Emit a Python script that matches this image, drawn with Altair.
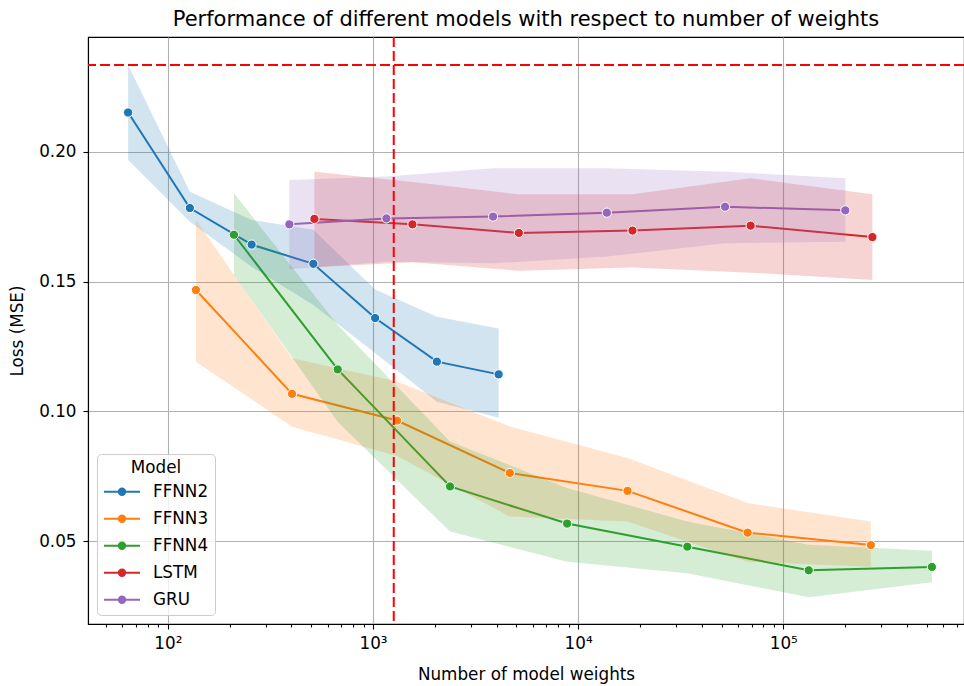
import altair as alt
import pandas as pd

models = ["FFNN2", "FFNN3", "FFNN4", "LSTM", "GRU"]
colors = ["#1f77b4", "#ff7f0e", "#2ca02c", "#d62728", "#9467bd"]

ffnn2_x = [64, 128, 256, 512, 1024, 2048, 4096]
ffnn2_y = [0.2152, 0.1784, 0.1643, 0.1569, 0.1360, 0.1192, 0.1143]
ffnn2_hi = [0.2335, 0.1847, 0.1738, 0.1700, 0.1470, 0.1365, 0.1320]
ffnn2_lo = [0.1969, 0.1731, 0.1558, 0.1410, 0.1225, 0.1037, 0.0976]

ffnn3_x = [137, 403, 1310, 4643, 17400, 66990, 267000]
ffnn3_y = [0.1468, 0.1068, 0.0965, 0.0763, 0.0694, 0.0533, 0.0485]
ffnn3_hi = [0.1738, 0.1205, 0.1115, 0.0942, 0.0821, 0.0647, 0.0576]
ffnn3_lo = [0.1192, 0.0941, 0.0828, 0.0595, 0.0576, 0.0421, 0.0402]

ffnn4_x = [210, 673, 2375, 8830, 34050, 133000, 530000]
ffnn4_y = [0.1681, 0.1162, 0.0711, 0.0568, 0.0479, 0.0388, 0.0401]
ffnn4_hi = [0.1841, 0.1333, 0.0884, 0.0705, 0.0576, 0.0486, 0.0463]
ffnn4_lo = [0.1526, 0.0959, 0.0537, 0.0421, 0.0377, 0.0284, 0.0342]

lstm_x = [518, 1556, 5140, 18400, 69300, 271800]
lstm_y = [0.1742, 0.1721, 0.1688, 0.1697, 0.1716, 0.1672]
lstm_hi = [0.1924, 0.1884, 0.1837, 0.1837, 0.1899, 0.1837]
lstm_lo = [0.1556, 0.1575, 0.1542, 0.1555, 0.1535, 0.1507]

gru_x = [391, 1162, 3847, 13800, 52000, 200500]
gru_y = [0.1721, 0.1744, 0.1751, 0.1766, 0.1789, 0.1775]
gru_hi = [0.1892, 0.1905, 0.1937, 0.1937, 0.1924, 0.1899]
gru_lo = [0.1548, 0.1577, 0.1571, 0.1597, 0.1648, 0.1654]

hline_y = [0.2335]
vline_x = [1262]

x_ticks = [50, 60, 70, 80, 90,
           100, 200, 300, 400, 500, 600, 700, 800, 900,
           1000, 2000, 3000, 4000, 5000, 6000, 7000, 8000, 9000,
           10000, 20000, 30000, 40000, 50000, 60000, 70000, 80000, 90000,
           100000, 200000, 300000, 400000, 500000, 600000, 700000]
y_ticks = [0.05, 0.10, 0.15, 0.20]

series = [
    ("FFNN2", ffnn2_x, ffnn2_y, ffnn2_lo, ffnn2_hi),
    ("FFNN3", ffnn3_x, ffnn3_y, ffnn3_lo, ffnn3_hi),
    ("FFNN4", ffnn4_x, ffnn4_y, ffnn4_lo, ffnn4_hi),
    ("LSTM", lstm_x, lstm_y, lstm_lo, lstm_hi),
    ("GRU", gru_x, gru_y, gru_lo, gru_hi),
]
rows = []
for name, xs, ys, los, his in series:
    for a, b, c, d in zip(xs, ys, los, his):
        rows.append({"Model": name, "w": a, "loss": b, "lo": c, "hi": d})
df = pd.DataFrame(rows)

FONT = "DejaVu Sans"
MAJOR = "abs(log(datum.value)/LN10 - round(log(datum.value)/LN10)) < 0.001"

xscale = alt.Scale(type="log", domain=[40.8, 760000], nice=False)
yscale = alt.Scale(domain=[0.0181, 0.2443], nice=False, zero=False)
cscale = alt.Scale(domain=models, range=colors)

x_axis = alt.Axis(
    title="Number of model weights", values=x_ticks,
    labelExpr=MAJOR + " ? '10' + ['⁰','¹','²','³','⁴','⁵','⁶'][round(log(datum.value)/LN10)] : ''",
    labelOverlap=False, labelFlush=False,
    tickSize={"condition": {"test": MAJOR, "value": 5}, "value": 3},
    gridOpacity={"condition": {"test": MAJOR, "value": 1}, "value": 0},
    labelPadding=6, titlePadding=15,
)
y_axis = alt.Axis(title="Loss (MSE)", values=y_ticks, format=".2f", tickSize=5,
                  labelPadding=7, titlePadding=12)

sym_path = ("M-2.25,0L2.25,0"
            "M0.4,0A0.4,0.4,0,1,1,-0.4,0A0.4,0.4,0,1,1,0.4,0"
            "M0.2,0A0.2,0.2,0,1,1,-0.2,0A0.2,0.2,0,1,1,0.2,0"
            "M0.05,0A0.05,0.05,0,1,1,-0.05,0A0.05,0.05,0,1,1,0.05,0")

legend = alt.Legend(
    title="Model", orient="none", legendX=9, legendY=417,
    symbolType=sym_path, symbolSize=256, symbolStrokeWidth=2,
    symbolOffset=10, labelOffset=22, rowPadding=9, padding=6,
    fillColor="rgba(255,255,255,0.8)", strokeColor="#cccccc", cornerRadius=4,
    titleAnchor="middle", titleAlign="center", titleFontWeight="normal", titleFontSize=16.8,
    labelFontSize=16.8, titlePadding=6, symbolOpacity=1,
)

base = alt.Chart(df)
x = alt.X("w:Q", scale=xscale, axis=x_axis)
color = alt.Color("Model:N", scale=cscale, legend=legend)

bands = base.mark_area(opacity=0.2, clip=True).encode(
    x=x, y=alt.Y("lo:Q", scale=yscale, axis=y_axis), y2="hi:Q",
    color=color,
)
lines = base.mark_line(strokeWidth=2, clip=True).encode(
    x=x, y=alt.Y("loss:Q", scale=yscale),
    color=color,
)
points = base.mark_point(filled=True, size=85, stroke="white", strokeWidth=1,
                         opacity=1, clip=True).encode(
    x=x, y=alt.Y("loss:Q", scale=yscale),
    color=color,
)
hline = alt.Chart(pd.DataFrame({"v": hline_y})).mark_rule(
    color="red", strokeDash=[10, 4], strokeWidth=2).encode(
    y=alt.Y("v:Q", scale=yscale))
vline = alt.Chart(pd.DataFrame({"v": vline_x})).mark_rule(
    color="red", strokeDash=[10, 4], strokeWidth=2).encode(
    x=alt.X("v:Q", scale=xscale))

chart = alt.layer(lines, bands, points, hline, vline).properties(
    width=876, height=587,
    title=alt.TitleParams("Performance of different models with respect to number of weights",
                          fontSize=21, fontWeight="normal", font=FONT, anchor="middle",
                          offset=6, color="black"),
    padding={"left": 88, "top": 37, "right": 0, "bottom": 62},
    autosize="none",
).configure(font=FONT).configure_axis(
    labelFont=FONT, titleFont=FONT, labelFontSize=16.8, titleFontSize=16.8,
    labelColor="black", titleColor="black", titleFontWeight="normal",
    domainColor="black", domainWidth=1.1, tickColor="black", tickWidth=1.1,
    gridColor="#b0b0b0", gridWidth=1.1,
).configure_legend(labelFont=FONT, titleFont=FONT, labelColor="black", titleColor="black"
).configure_view(stroke="black", strokeWidth=1.1)

chart.save("out.html", embed_options={"renderer": "svg", "actions": False})
